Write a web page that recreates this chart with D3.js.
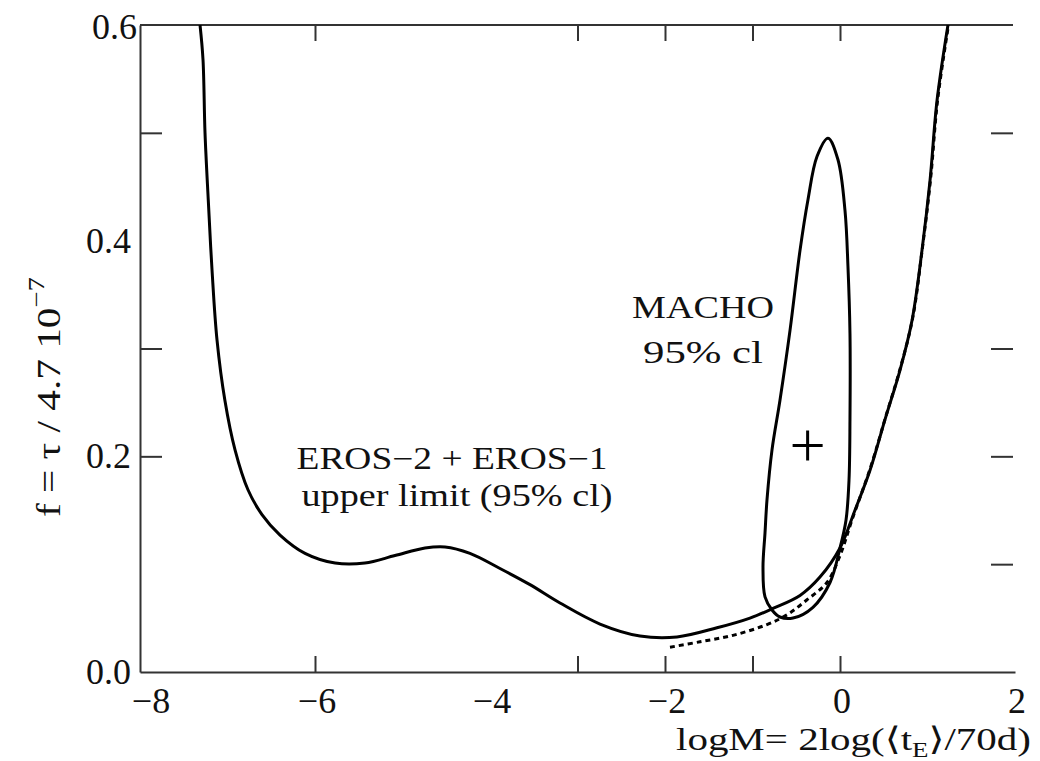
<!DOCTYPE html>
<html>
<head>
<meta charset="utf-8">
<script src="https://cdn.jsdelivr.net/npm/d3@7"></script>
<style>
  body { margin: 0; background: #fff; }
  svg { display: block; font-family: "Liberation Serif", "DejaVu Serif", serif; }
</style>
</head>
<body>
<svg id="chart" width="1040" height="761"></svg>
<script>
// EROS-2 + EROS-1 upper limit (solid), [logM, f]
const erosLimit = [
  [-7.314, 0.600], [-7.28, 0.568], [-7.257, 0.50], [-7.22, 0.438], [-7.177, 0.373],
  [-7.12, 0.308], [-7.03, 0.252], [-6.914, 0.206], [-6.766, 0.169], [-6.606, 0.146],
  [-6.4, 0.127], [-6.114, 0.110], [-5.77, 0.101], [-5.43, 0.101], [-5.086, 0.108],
  [-4.743, 0.115], [-4.514, 0.116], [-4.229, 0.110], [-3.886, 0.096], [-3.543, 0.081],
  [-3.2, 0.064], [-2.743, 0.0445], [-2.286, 0.0334], [-1.863, 0.0325], [-1.406, 0.041],
  [-1.029, 0.050], [-0.766, 0.059], [-0.457, 0.071], [-0.229, 0.088], [0, 0.115],
  [0.171, 0.150], [0.343, 0.187], [0.514, 0.234], [0.686, 0.280], [0.823, 0.326],
  [0.937, 0.391], [1.029, 0.456], [1.109, 0.530], [1.234, 0.600]
];

// second (dotted) limit
const erosAlt = [
  [-1.943, 0.023], [-1.6, 0.028], [-1.223, 0.034], [-0.834, 0.044], [-0.606, 0.053],
  [-0.377, 0.067], [-0.149, 0.083], [0, 0.108], [0.137, 0.141], [0.35, 0.19],
  [0.52, 0.236], [0.69, 0.282], [0.83, 0.328], [0.94, 0.392], [1.035, 0.457],
  [1.115, 0.53], [1.24, 0.6]
];

// MACHO 95% cl contour (closed)
const machoContour = [
  [-0.137, 0.495], [-0.023, 0.475], [0.057, 0.428], [0.091, 0.376], [0.114, 0.314],
  [0.114, 0.234], [0.103, 0.178], [0.069, 0.141], [0, 0.115], [-0.114, 0.083],
  [-0.309, 0.060], [-0.537, 0.050], [-0.686, 0.051], [-0.777, 0.0575], [-0.857, 0.0696],
  [-0.88, 0.097], [-0.857, 0.129], [-0.834, 0.16], [-0.777, 0.206], [-0.686, 0.252],
  [-0.571, 0.317], [-0.457, 0.391], [-0.366, 0.438], [-0.263, 0.478]
];

const machoBest = [-0.37, 0.21];

const xLabels = [-8, -6, -4, -2, 0, 2];
const xTicks = [-6, -3, -2, -1, 0];
const yLabels = [0, 0.2, 0.4, 0.6];
const yTicksLeft = [0.2, 0.3, 0.5];
const yTicksRight = [0.1, 0.2, 0.3, 0.5];

const svg = d3.select('#chart');
const x = d3.scaleLinear().domain([-8, 2]).range([140, 1015]);
const y = d3.scaleLinear().domain([0, 0.6]).range([672, 25]);

const axisColor = '#333';
const textColor = '#111';

// clip so curves stop at the frame
svg.append('clipPath').attr('id', 'plot')
  .append('rect')
  .attr('x', x(-8)).attr('y', y(0.6))
  .attr('width', x(2) - x(-8)).attr('height', y(0) - y(0.6));

function styleAxis(g) {
  g.selectAll('path.domain').attr('stroke', axisColor).attr('stroke-width', 2);
  g.selectAll('.tick line').attr('stroke', axisColor).attr('stroke-width', 2);
  g.selectAll('.tick text').remove();
}

// bottom
svg.append('g')
  .attr('transform', `translate(0,${y(0)})`)
  .call(d3.axisBottom(x).tickValues(xTicks).tickSize(-16).tickSizeOuter(0))
  .call(styleAxis);

// top
svg.append('g')
  .attr('transform', `translate(0,${y(0.6)})`)
  .call(d3.axisTop(x).tickValues(xTicks).tickSize(-16).tickSizeOuter(0))
  .call(g => g.select('path.domain').attr('d', `M${x(-8)},0H${x(2) - 2}`))
  .call(styleAxis);

// left
svg.append('g')
  .attr('transform', `translate(${x(-8)},0)`)
  .call(d3.axisLeft(y).tickValues(yTicksLeft).tickSize(-22).tickSizeOuter(0))
  .call(styleAxis);

// right: ticks only
svg.append('g')
  .attr('transform', `translate(${x(2) - 2},0)`)
  .call(d3.axisRight(y).tickValues(yTicksRight).tickSize(-22).tickSizeOuter(0))
  .call(styleAxis)
  .call(g => g.select('path.domain').remove());

// tick labels
svg.append('g').selectAll('text')
  .data(xLabels)
  .join('text')
  .attr('x', d => x(d) + (d === -8 ? 11 : 2))
  .attr('y', 713)
  .attr('text-anchor', 'middle')
  .attr('font-size', 36)
  .attr('fill', textColor)
  .text(d => d < 0 ? '\u2212' + Math.abs(d) : d);

svg.append('g').selectAll('text')
  .data(yLabels)
  .join('text')
  .attr('x', d => d === 0.6 ? 137 : 131)
  .attr('y', d => y(d) + (d === 0.6 ? 14 : 12))
  .attr('text-anchor', 'end')
  .attr('font-size', 36)
  .attr('fill', textColor)
  .text(d3.format('.1f'));

// axis titles
const yTitle = svg.append('text')
  .attr('transform', 'translate(60,397) rotate(-90)')
  .attr('text-anchor', 'middle')
  .attr('font-size', 33)
  .attr('fill', textColor)
  .attr('textLength', 240)
  .attr('lengthAdjust', 'spacingAndGlyphs');
yTitle.append('tspan').text('f =  \u03c4 / 4.7 10');
yTitle.append('tspan').attr('dy', -16).attr('font-size', 23).text('\u22127');

const xTitle = svg.append('text')
  .attr('x', 1031).attr('y', 750)
  .attr('text-anchor', 'end')
  .attr('font-size', 32)
  .attr('fill', textColor)
  .attr('textLength', 355)
  .attr('lengthAdjust', 'spacingAndGlyphs');
xTitle.append('tspan').text('logM= 2log(\u27e8t');
xTitle.append('tspan').attr('dy', 7).attr('font-size', 21).text('E');
xTitle.append('tspan').attr('dy', -7).text('\u27e9/70d)');

// curves
const plot = svg.append('g').attr('clip-path', 'url(#plot)');
const line = d3.line().x(d => x(d[0])).y(d => y(d[1])).curve(d3.curveCatmullRom.alpha(0.5));
const closed = d3.line().x(d => x(d[0])).y(d => y(d[1])).curve(d3.curveCatmullRomClosed.alpha(0.5));

plot.append('path')
  .attr('d', line(erosAlt))
  .attr('fill', 'none')
  .attr('stroke', '#000')
  .attr('stroke-width', 3)
  .attr('stroke-dasharray', '5 4');

plot.append('path')
  .attr('d', line(erosLimit))
  .attr('fill', 'none')
  .attr('stroke', '#000')
  .attr('stroke-width', 3);

plot.append('path')
  .attr('d', closed(machoContour))
  .attr('fill', 'none')
  .attr('stroke', '#000')
  .attr('stroke-width', 3);

// best-fit cross
const bx = x(machoBest[0]), by = y(machoBest[1]);
plot.append('path')
  .attr('d', `M${bx - 15},${by}H${bx + 15}M${bx},${by - 15}V${by + 15}`)
  .attr('stroke', '#000')
  .attr('stroke-width', 3);

// annotations
const notes = [
  { text: 'MACHO', x: 703, y: 318, w: 142 },
  { text: '95% cl', x: 703, y: 363, w: 120 },
  { text: 'EROS\u22122 + EROS\u22121', x: 452, y: 469, w: 311 },
  { text: 'upper limit (95% cl)', x: 457, y: 506, w: 311 }
];
svg.append('g').selectAll('text')
  .data(notes)
  .join('text')
  .attr('x', d => d.x)
  .attr('y', d => d.y)
  .attr('text-anchor', 'middle')
  .attr('font-size', 31)
  .attr('fill', textColor)
  .attr('textLength', d => d.w)
  .attr('lengthAdjust', 'spacingAndGlyphs')
  .text(d => d.text);
</script>
</body>
</html>
